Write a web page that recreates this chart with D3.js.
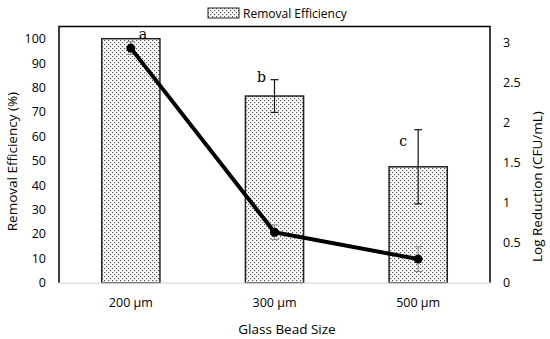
<!DOCTYPE html>
<html>
<head>
<meta charset="utf-8">
<script src="https://cdn.jsdelivr.net/npm/d3@7"></script>
<style>
  body { margin: 0; background: #fff; }
  text { font-family: "Open Sans", "Noto Sans", sans-serif; fill: #000; }
  .tick text { font-size: 12.5px; }
  .ttl { font-size: 13.5px; }
  .let { font-family: "DejaVu Serif", "Liberation Serif", serif; font-size: 14px; }
</style>
</head>
<body>
<script>
// chart data
var categories = ["200 \u00b5m", "300 \u00b5m", "500 \u00b5m"];
var removal = [100, 76.5, 47.5];          // removal efficiency (%)
var removalErr = [0, 6.7, 15.2];
var logRed = [2.93, 0.63, 0.295];         // log reduction (CFU/mL)
var logErr = [0.08, 0.09, 0.155];
var letters = ["a", "b", "c"];
var leftTicks = [0, 10, 20, 30, 40, 50, 60, 70, 80, 90, 100];
var rightTicks = [0, 0.5, 1, 1.5, 2, 2.5, 3];

// layout
var w = 550, h = 339;
var pdL = 59, pdR = 60, pdT = 26.5, pdB = 56.3;
// letter label nudges (px) relative to top of bar + error
var letDx = [12, -13, -15];
var letDy = [0, 2, 16];

var svg = d3.select("body").append("svg")
  .attr("width", w).attr("height", h);

// dotted fill pattern
var pat = svg.append("defs").append("pattern")
  .attr("id", "dots").attr("patternUnits", "userSpaceOnUse")
  .attr("width", 4).attr("height", 4);
pat.append("rect").attr("width", 4).attr("height", 4).attr("fill", "#fff");
pat.append("rect").attr("x", 0).attr("y", 0).attr("width", 1.2).attr("height", 1.2).attr("fill", "#555");
pat.append("rect").attr("x", 2).attr("y", 2).attr("width", 1.2).attr("height", 1.2).attr("fill", "#555");

var scaleX = d3.scaleBand().domain(categories).range([pdL, w - pdR]).paddingInner(0.595).paddingOuter(0.2975);
var scaleY = d3.scaleLinear().domain([0, 105]).range([h - pdB, pdT]);
var scaleY2 = d3.scaleLinear().domain([0, 3.2]).range([h - pdB, pdT]);
var cx = function(i) { return scaleX(categories[i]) + scaleX.bandwidth() / 2; };

// bars
svg.selectAll("rect.bar").data(removal).enter().append("rect")
  .attr("class", "bar")
  .attr("x", function(d, i) { return scaleX(categories[i]); })
  .attr("y", function(d) { return scaleY(d); })
  .attr("width", scaleX.bandwidth())
  .attr("height", function(d) { return scaleY(0) - scaleY(d); })
  .attr("fill", "url(#dots)")
  .attr("stroke", "#222").attr("stroke-width", 1.5);

// bar error bars
removal.forEach(function(d, i) {
  if (removalErr[i] <= 0) return;
  var x = cx(i), y1 = scaleY(d + removalErr[i]), y2 = scaleY(d - removalErr[i]);
  var g = svg.append("g").attr("stroke", "#111").attr("stroke-width", 1.2);
  g.append("line").attr("x1", x).attr("x2", x).attr("y1", y1).attr("y2", y2);
  g.append("line").attr("x1", x - 4).attr("x2", x + 4).attr("y1", y1).attr("y2", y1);
  g.append("line").attr("x1", x - 4).attr("x2", x + 4).attr("y1", y2).attr("y2", y2);
});

// letters
letters.forEach(function(l, i) {
  svg.append("text").attr("class", "let")
    .attr("x", cx(i) + letDx[i])
    .attr("y", scaleY(removal[i] + removalErr[i]) + letDy[i])
    .attr("text-anchor", "middle")
    .text(l);
});

// line error bars
logRed.forEach(function(d, i) {
  var x = cx(i), y1 = scaleY2(d + logErr[i]), y2 = scaleY2(d - logErr[i]);
  var g = svg.append("g").attr("stroke", "#888").attr("stroke-width", 1);
  g.append("line").attr("x1", x).attr("x2", x).attr("y1", y1).attr("y2", y2);
  g.append("line").attr("x1", x - 4).attr("x2", x + 4).attr("y1", y1).attr("y2", y1);
  g.append("line").attr("x1", x - 4).attr("x2", x + 4).attr("y1", y2).attr("y2", y2);
});

// log reduction line
var line = d3.line()
  .x(function(d, i) { return cx(i); })
  .y(function(d) { return scaleY2(d); });
svg.append("path").datum(logRed)
  .attr("d", line).attr("fill", "none")
  .attr("stroke", "#000").attr("stroke-width", 4).attr("stroke-linejoin", "round");
svg.selectAll("circle.pt").data(logRed).enter().append("circle")
  .attr("class", "pt")
  .attr("cx", function(d, i) { return cx(i); })
  .attr("cy", function(d) { return scaleY2(d); })
  .attr("r", 4.5).attr("fill", "#000");

// frame (left, top, right)
svg.append("path")
  .attr("d", "M" + pdL + "," + (h - pdB) + "V" + pdT + "H" + (w - pdR) + "V" + (h - pdB))
  .attr("fill", "none").attr("stroke", "#000").attr("stroke-width", 1.5);

// x-axis
var axisX = d3.axisBottom(scaleX).tickSize(0).tickPadding(15);
var gx = svg.append("g").attr("transform", "translate(0," + (h - pdB) + ")").call(axisX);
gx.select(".domain").attr("stroke", "#d9d9d9").attr("stroke-width", 1.2);

// y-axes
var axisY = d3.axisLeft(scaleY).tickValues(leftTicks).tickSize(0).tickPadding(13);
var gy = svg.append("g").attr("transform", "translate(" + pdL + ",0)").call(axisY);
gy.select(".domain").remove();

var axisY2 = d3.axisRight(scaleY2).tickValues(rightTicks).tickSize(0).tickPadding(13)
  .tickFormat(d3.format("~g"));
var gy2 = svg.append("g").attr("transform", "translate(" + (w - pdR) + ",0)").call(axisY2);
gy2.select(".domain").remove();
svg.selectAll(".tick text").attr("font-family", null).attr("font-size", null);

// axis titles
svg.append("text").attr("class", "ttl")
  .attr("x", 287).attr("y", h - 5)
  .attr("text-anchor", "middle").text("Glass Bead Size");
svg.append("text").attr("class", "ttl")
  .attr("transform", "translate(17," + ((pdT + h - pdB) / 2 + 7) + ") rotate(-90)")
  .attr("text-anchor", "middle").text("Removal Efficiency (%)");
svg.append("text").attr("class", "ttl")
  .attr("transform", "translate(542," + ((pdT + h - pdB) / 2 + 32) + ") rotate(-90)")
  .attr("text-anchor", "middle").text("Log Reduction (CFU/mL)");

// legend
svg.append("rect").attr("x", 208).attr("y", 8).attr("width", 31).attr("height", 10)
  .attr("fill", "url(#dots)").attr("stroke", "#222").attr("stroke-width", 1);
svg.append("text").attr("x", 243).attr("y", 17.5).style("font-size", "12px")
  .text("Removal Efficiency");
</script>
</body>
</html>
